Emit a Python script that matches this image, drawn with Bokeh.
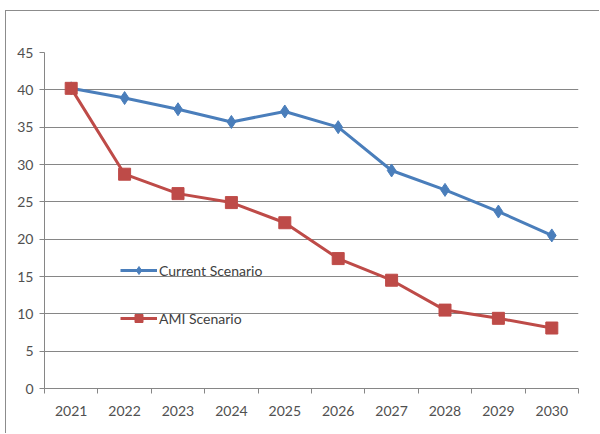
from bokeh.plotting import figure
from bokeh.models import Range1d, FixedTicker, Legend, LegendItem, ColumnDataSource
from bokeh.embed import file_html
from bokeh.resources import INLINE

years = [2021, 2022, 2023, 2024, 2025, 2026, 2027, 2028, 2029, 2030]
year_labels = ["2021", "2022", "2023", "2024", "2025", "2026", "2027", "2028", "2029", "2030"]
current_scenario = [40.2, 38.9, 37.4, 35.7, 37.1, 35.0, 29.2, 26.6, 23.7, 20.5]
ami_scenario = [40.2, 28.7, 26.1, 24.9, 22.2, 17.4, 14.5, 10.5, 9.4, 8.1]
y_ticks = [0, 5, 10, 15, 20, 25, 30, 35, 40, 45]

BLUE = "#4A7EBB"
RED = "#BE4B48"
GRID = "#868686"
TEXT = "#505050"
FONT = "Lato"

p = figure(width=594, height=423, output_backend="svg", toolbar_location=None,
           x_range=Range1d(years[0] - 0.5, years[-1] + 0.5),
           y_range=Range1d(0, 45),
           min_border_left=38, min_border_right=22, min_border_top=41, min_border_bottom=46,
           styles={"margin-left": "5px", "margin-top": "10px",
                   "border-left": "1px solid #8c8c8c", "border-top": "1px solid #8c8c8c"})
p.outline_line_color = None
p.background_fill_color = "white"
p.border_fill_color = "white"

# axes
p.xaxis.ticker = FixedTicker(ticks=years, minor_ticks=[y - 0.5 for y in years] + [years[-1] + 0.5])
p.xaxis.major_label_overrides = {y: l for y, l in zip(years, year_labels)}
p.xaxis.major_tick_out = 0
p.xaxis.major_tick_in = 0
p.xaxis.minor_tick_out = 5
p.xaxis.minor_tick_in = 0
p.xaxis.minor_tick_line_color = GRID
p.xaxis.axis_line_color = GRID
p.xaxis.major_label_standoff = 12

p.yaxis.ticker = FixedTicker(ticks=y_ticks)
p.yaxis.major_tick_out = 5
p.yaxis.major_tick_in = 0
p.yaxis.minor_tick_line_color = None
p.yaxis.major_tick_line_color = GRID
p.yaxis.axis_line_color = GRID
p.yaxis.major_label_standoff = 6

for ax in (p.xaxis, p.yaxis):
    ax.major_label_text_font = FONT
    ax.major_label_text_font_size = "14px"
    ax.major_label_text_color = TEXT

p.xgrid.grid_line_color = None
p.ygrid.ticker = FixedTicker(ticks=y_ticks)
p.ygrid.grid_line_color = GRID
p.ygrid.grid_line_width = 1

src = ColumnDataSource(dict(x=years, cur=current_scenario, ami=ami_scenario))

l1 = p.line("x", "cur", source=src, line_color=BLUE, line_width=3)
m1 = p.scatter("x", "cur", source=src, marker="diamond", size=13, fill_color=BLUE, line_color=BLUE)
l2 = p.line("x", "ami", source=src, line_color=RED, line_width=3)
m2 = p.scatter("x", "ami", source=src, marker="square", size=12, fill_color=RED, line_color=RED)

legend = Legend(items=[LegendItem(label="Current Scenario", renderers=[l1, m1]),
                       LegendItem(label="AMI Scenario", renderers=[l2, m2])],
                location=(76, 60), glyph_width=37, glyph_height=20, spacing=28,
                padding=0, margin=0, label_standoff=2,
                background_fill_alpha=0, border_line_color=None,
                label_text_font=FONT, label_text_font_size="14px", label_text_color="#404040")
p.add_layout(legend, "center")

open("out.html", "w").write(file_html(p, INLINE))
